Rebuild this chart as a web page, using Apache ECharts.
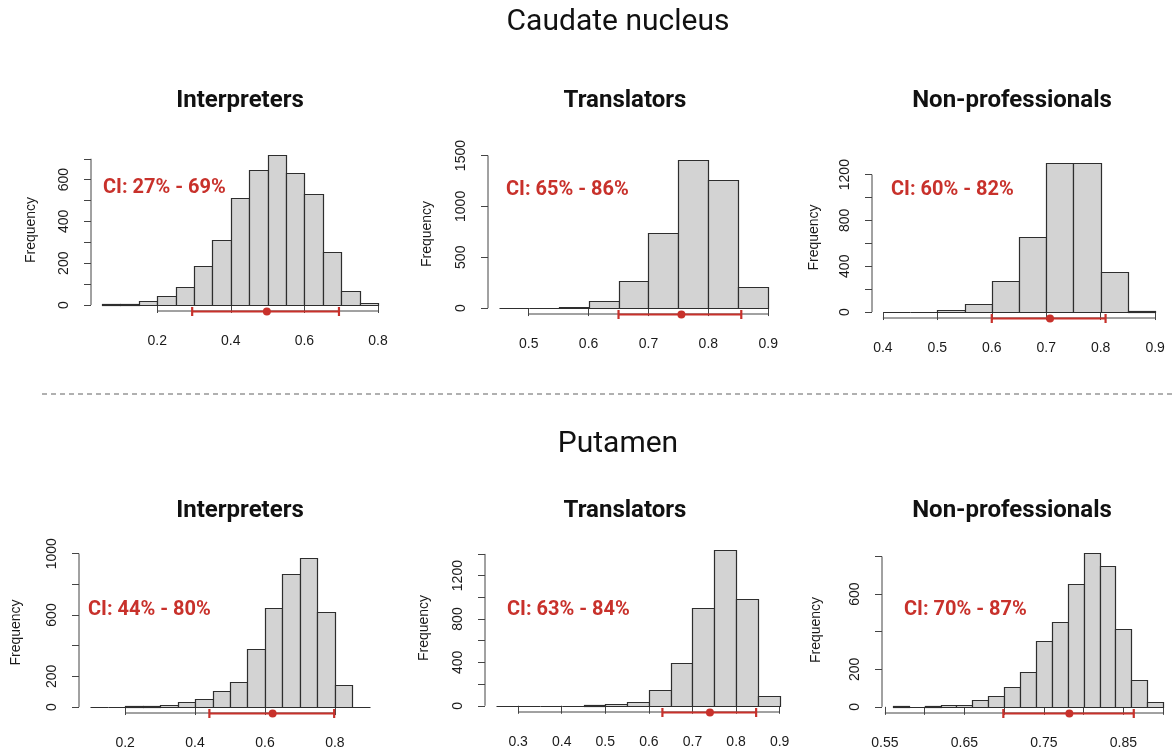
<!DOCTYPE html>
<html>
<head>
<meta charset="utf-8">
<script src="https://cdn.jsdelivr.net/npm/echarts@6/dist/echarts.min.js"></script>
<style>
  html, body { margin: 0; padding: 0; background: #fff; }
  #chart { width: 1175px; height: 750px; }
</style>
</head>
<body>
<div id="chart"></div>
<script>
const groupTitles = ["Caudate nucleus", "Putamen"];
const panelNames = ["Interpreters", "Translators", "Non-professionals"];

// caudate nucleus - histogram counts, [first break, bin width], CI [low, estimate, high]
const caudInterpCounts = [3, 3, 21, 45, 84, 185, 310, 513, 646, 718, 632, 529, 255, 67, 8];
const caudInterpBreaks = [0.05, 0.05];
const caudInterpCI = [0.295, 0.498, 0.694];

const caudTransCounts = [2, 5, 15, 69, 263, 737, 1457, 1260, 204];
const caudTransBreaks = [0.45, 0.05];
const caudTransCI = [0.65, 0.755, 0.855];

const caudNonCounts = [1, 3, 17, 73, 268, 658, 1302, 1300, 347, 6];
const caudNonBreaks = [0.4, 0.05];
const caudNonCI = [0.6, 0.707, 0.809];

// putamen
const putInterpCounts = [1, 1, 5, 5, 13, 30, 53, 106, 163, 378, 645, 867, 972, 619, 144, 1];
const putInterpBreaks = [0.1, 0.05];
const putInterpCI = [0.441, 0.622, 0.798];

const putTransCounts = [1, 1, 1, 2, 3, 12, 34, 148, 397, 902, 1434, 982, 92];
const putTransBreaks = [0.25, 0.05];
const putTransCI = [0.631, 0.74, 0.846];

const putNonCounts = [2, 1, 3, 8, 12, 35, 56, 107, 186, 351, 454, 654, 818, 747, 414, 144, 25];
const putNonBreaks = [0.56, 0.02];
const putNonCI = [0.699, 0.782, 0.863];

const ciLabels = ["CI: 27% - 69%", "CI: 65% - 86%", "CI: 60% - 82%",
                  "CI: 44% - 80%", "CI: 63% - 84%", "CI: 70% - 87%"];

// axis ticks and the labels R kept
const xTicks = [
  [0.2, 0.4, 0.6, 0.8], [0.5, 0.6, 0.7, 0.8, 0.9], [0.4, 0.5, 0.6, 0.7, 0.8, 0.9],
  [0.2, 0.4, 0.6, 0.8], [0.3, 0.4, 0.5, 0.6, 0.7, 0.8, 0.9],
  [0.55, 0.6, 0.65, 0.7, 0.75, 0.8, 0.85, 0.9]
];
const xLabels = [
  [0.2, 0.4, 0.6, 0.8], [0.5, 0.6, 0.7, 0.8, 0.9], [0.4, 0.5, 0.6, 0.7, 0.8, 0.9],
  [0.2, 0.4, 0.6, 0.8], [0.3, 0.4, 0.5, 0.6, 0.7, 0.8, 0.9], [0.55, 0.65, 0.75, 0.85]
];
const yTicks = [
  [0, 100, 200, 300, 400, 500, 600, 700], [0, 500, 1000, 1500],
  [0, 200, 400, 600, 800, 1000, 1200], [0, 200, 400, 600, 800, 1000],
  [0, 200, 400, 600, 800, 1000, 1200, 1400], [0, 200, 400, 600, 800]
];
const yLabels = [
  [0, 200, 400, 600], [0, 500, 1000, 1500], [0, 400, 800, 1200],
  [0, 200, 600, 1000], [0, 400, 800, 1200], [0, 200, 600]
];

const panels = [
  [caudInterpCounts, caudInterpBreaks, caudInterpCI],
  [caudTransCounts, caudTransBreaks, caudTransCI],
  [caudNonCounts, caudNonBreaks, caudNonCI],
  [putInterpCounts, putInterpBreaks, putInterpCI],
  [putTransCounts, putTransBreaks, putTransCI],
  [putNonCounts, putNonBreaks, putNonCI]
];

// plot regions in px: left, top, width, height, nameGap, ci text x, ci text y
const layout = [
  [91, 149, 298, 162, 53, 103, 188],
  [488, 154, 291, 160, 54, 506, 190],
  [872, 157, 294, 161, 51, 891, 190],
  [79, 552, 302, 166, 56, 88, 610],
  [485, 544, 306, 168, 54, 507, 610],
  [882, 547, 292, 168, 59, 904, 610]
];

const axisColor = "#444";
const red = "#c8312b";
const tickFont = "Liberation Sans";

const chart = echarts.init(document.getElementById("chart"));

const grids = [], xAxes = [], yAxes = [], series = [];

panels.forEach(([counts, breaks, ci], i) => {
  const [left, top, width, height, nameGap] = layout[i];
  const first = breaks[0];
  const last = breaks[0] + breaks[1] * counts.length;
  const xpad = 0.04 * (last - first);
  const ymax = Math.max(...counts);

  grids.push({ left, top, width, height });

  xAxes.push({
    gridIndex: i, type: "value",
    min: first - xpad, max: last + xpad,
    axisLine: { show: false },
    splitLine: { show: false },
    axisTick: { show: true, customValues: xTicks[i], length: 8, lineStyle: { color: axisColor } },
    axisLabel: {
      customValues: xLabels[i], margin: 23, fontSize: 14, color: "#1a1a1a", fontFamily: tickFont,
      formatter: (v) => String(+v.toFixed(2))
    }
  });

  yAxes.push({
    gridIndex: i, type: "value",
    min: -0.04 * ymax, max: 1.04 * ymax,
    name: "Frequency", nameLocation: "middle", nameGap, nameRotate: 90,
    nameTextStyle: { fontSize: 14, color: "#1a1a1a", fontFamily: tickFont },
    axisLine: { show: false },
    splitLine: { show: false },
    axisTick: { show: true, customValues: yTicks[i], length: 7, lineStyle: { color: axisColor } },
    axisLabel: {
      customValues: yLabels[i], rotate: 90, margin: 20, fontSize: 14, color: "#1a1a1a", fontFamily: tickFont,
      formatter: (v) => String(v)
    }
  });

  const bins = counts.map((c, k) => [first + k * breaks[1], first + (k + 1) * breaks[1], c]);

  series.push({
    type: "custom", xAxisIndex: i, yAxisIndex: i, silent: true,
    encode: { x: [0, 1], y: 2 },
    data: bins,
    renderItem: (params, api) => {
      const p0 = api.coord([api.value(0), 0]);
      const p1 = api.coord([api.value(1), api.value(2)]);
      return {
        type: "rect",
        shape: { x: Math.round(p0[0]) + 0.5, y: Math.round(p1[1]) + 0.5,
                 width: Math.round(p1[0]) - Math.round(p0[0]),
                 height: Math.round(p0[1]) - Math.round(p1[1]) },
        style: { fill: "#d3d3d3", stroke: "#2e2e2e", lineWidth: 1.2 }
      };
    }
  });

  // R style axis lines running only from first to last tick
  const xt = xTicks[i], yt = yTicks[i];
  series.push({
    type: "custom", xAxisIndex: i, yAxisIndex: i, silent: true,
    data: [[xt[0], 0]],
    renderItem: (params, api) => {
      const cs = params.coordSys;
      const bottom = cs.y + cs.height;
      const xa = api.coord([xt[0], 0])[0];
      const xb = api.coord([xt[xt.length - 1], 0])[0];
      const ya = api.coord([0, yt[0]])[1];
      const yb = api.coord([0, yt[yt.length - 1]])[1];
      const ls = { stroke: axisColor, lineWidth: 1 };
      return {
        type: "group",
        children: [
          { type: "line", shape: { x1: xa, y1: bottom, x2: xb, y2: bottom }, style: ls },
          { type: "line", shape: { x1: cs.x, y1: ya, x2: cs.x, y2: yb }, style: ls }
        ]
      };
    }
  });

  // confidence interval bar
  series.push({
    type: "custom", xAxisIndex: i, yAxisIndex: i, silent: true, z: 5,
    data: [ci],
    renderItem: (params, api) => {
      const cs = params.coordSys;
      const y = cs.y + cs.height + 0.5;
      const lo = api.coord([api.value(0), 0])[0];
      const mid = api.coord([api.value(1), 0])[0];
      const hi = api.coord([api.value(2), 0])[0];
      const ls = { stroke: red, lineWidth: 2.2 };
      return {
        type: "group",
        children: [
          { type: "line", shape: { x1: lo, y1: y, x2: hi, y2: y }, style: ls },
          { type: "line", shape: { x1: lo, y1: y - 4.5, x2: lo, y2: y + 4.5 }, style: ls },
          { type: "line", shape: { x1: hi, y1: y - 4.5, x2: hi, y2: y + 4.5 }, style: ls },
          { type: "circle", shape: { cx: mid, cy: y, r: 4 }, style: { fill: red } }
        ]
      };
    }
  });
});

const graphics = [
  { type: "text", x: 618, y: 22, style: { text: groupTitles[0], font: "30px Roboto", fill: "#111", align: "center", verticalAlign: "middle" } },
  { type: "text", x: 618, y: 444, style: { text: groupTitles[1], font: "30px Roboto", fill: "#111", align: "center", verticalAlign: "middle" } },
  { type: "line", shape: { x1: 42, y1: 394, x2: 1175, y2: 394 }, style: { stroke: "#b0b0b0", lineWidth: 2, lineDash: [5, 4] } }
];
const nameX = [240, 625, 1012];
[101, 511].forEach((y) => {
  panelNames.forEach((name, k) => {
    graphics.push({ type: "text", x: nameX[k], y, style: { text: name, font: "bold 24px Roboto", fill: "#111", align: "center", verticalAlign: "middle" } });
  });
});
ciLabels.forEach((t, i) => {
  graphics.push({ type: "text", x: layout[i][5], y: layout[i][6], style: { text: t, font: "bold 20px Roboto", fill: red, align: "left", verticalAlign: "middle" } });
});

chart.setOption({
  animation: false,
  grid: grids,
  xAxis: xAxes,
  yAxis: yAxes,
  series,
  graphic: graphics
});
</script>
</body>
</html>
